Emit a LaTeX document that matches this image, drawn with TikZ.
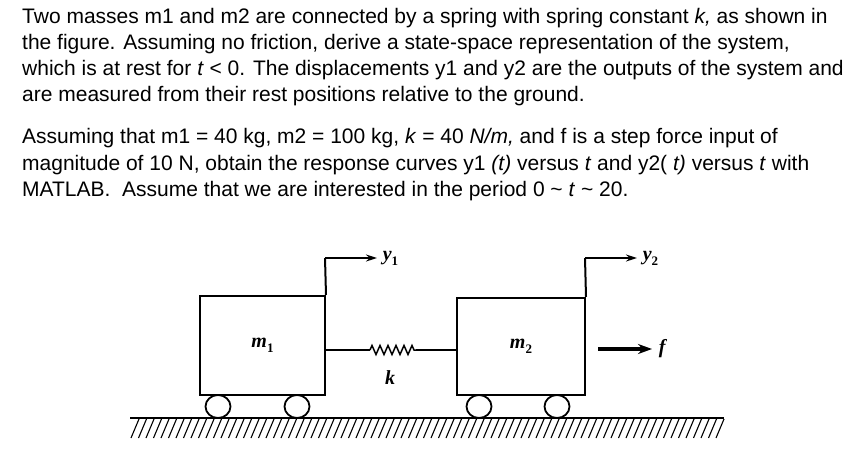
\documentclass[tikz,border=0pt]{standalone}
\usepackage{fontspec}
\setmainfont{Liberation Sans}
\newfontfamily\figfont{Liberation Serif}
\usetikzlibrary{decorations.pathmorphing,shapes.geometric,arrows.meta}
\newcommand{\mylab}[2]{\textit{#1}\raisebox{-0.25em}{\fontsize{13}{14}\selectfont\upshape #2}}
\begin{document}
\begin{tikzpicture}[x=1pt,y=-1pt,
  txt/.style={anchor=base west,inner sep=0pt,font=\fontsize{21}{24}\selectfont},
  lbl/.style={inner sep=1pt,font=\fontsize{20}{22}\selectfont\figfont\bfseries\itshape},
  box/.style={draw,line width=2pt},
  wheel/.style={draw,line width=1.8pt,ellipse,minimum width=25pt,minimum height=23pt,inner sep=0pt},
  ln/.style={line width=2pt},
  arr/.style={line width=1.6pt,-{Stealth[length=11pt,width=7pt]}}]
\useasboundingbox (0,0) rectangle (858,457);
\node[txt] (t1) at (22,24) {Two masses m1 and m2 are connected by a spring with spring constant \textit{k,} as shown in};
\node[txt] (t2) at (22,50) {the figure. Assuming no friction, derive a state-space representation of the system,};
\node[txt] (t3) at (22,76) {which is at rest for \textit{t} < 0. The displacements y1 and y2 are the outputs of the system and};
\node[txt] (t4) at (22,102) {are measured from their rest positions relative to the ground.};
\node[txt] (t5) at (22,144) {Assuming that m1 = 40 kg, m2 = 100 kg, \textit{k} = 40 \textit{N/m,} and f is a step force input of};
\node[txt] (t6) at (22,170) {magnitude of 10 N, obtain the response curves y1 \textit{(t)} versus \textit{t} and y2( \textit{t)} versus \textit{t} with};
\node[txt] (t7) at (22,196) {MATLAB.\ \ Assume that we are interested in the period 0 \textasciitilde\ \textit{t} \textasciitilde\ 20.};
% masses
\node[box,minimum width=125pt,minimum height=99pt,inner sep=0pt] (m1) at (262.5,345.5) {};
\node[box,minimum width=128pt,minimum height=97pt,inner sep=0pt] (m2) at (521,346.5) {};
\node[lbl] at (m1) {\mylab{m}{1}};
\node[lbl] at (m2) {\mylab{m}{2}};
% wheels
\node[wheel] (w1) at (218,406.5) {};
\node[wheel] (w2) at (297,406.5) {};
\node[wheel] (w3) at (479,406.5) {};
\node[wheel] (w4) at (557,406.5) {};
% ground
\coordinate (g1) at (130,418);
\coordinate (g2) at (724,418);
\draw[ln] (g1) -- (g2);
\foreach \i in {0,...,78} {\draw[line width=1.1pt] (131+7.5*\i,438) -- (139+7.5*\i,419);}
% spring
\coordinate (s1) at (370,350);
\coordinate (s2) at (416,350);
\draw[ln] (m1.east |- s1) -- (s1);
\draw[line width=1.5pt,decorate,decoration={zigzag,segment length=8pt,amplitude=4.5pt}] (s1) -- (s2);
\draw[ln] (s2) -- (m2.west |- s2);
\node[lbl] (k) at (390,378) {k};
% displacements
\coordinate (c1) at (325,258);
\coordinate (c2) at (585,258);
\draw[ln] (m1.north east) -- (c1);
\draw[arr] (c1) -- ++(52,0) node[lbl,anchor=west,inner sep=5pt] (y1) {\mylab{y}{1}};
\draw[ln] (m2.north east) -- (c2);
\draw[arr] (c2) -- ++(52,0) node[lbl,anchor=west,inner sep=5pt] (y2) {\mylab{y}{2}};
% force
\coordinate (f0) at (598,349);
\draw[line width=3.5pt,-{Stealth[length=14pt,width=10pt]}] (f0) -- ++(54,0) node[lbl,anchor=west,inner sep=5pt] (f) {f};
\end{tikzpicture}
\end{document}
